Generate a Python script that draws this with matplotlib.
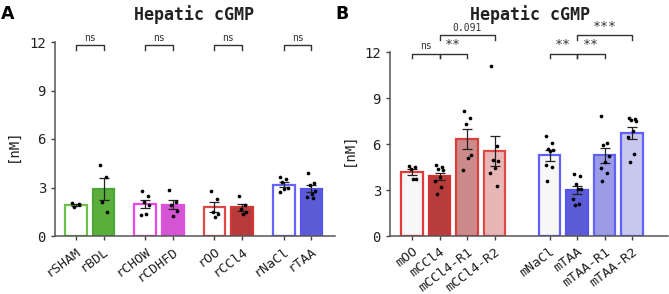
import numpy as np
import matplotlib
matplotlib.use('Agg')
import matplotlib.pyplot as plt

plt.rcParams['font.family'] = 'DejaVu Sans Mono'

# panel A data
labels_a = ['rSHAM', 'rBDL', 'rCHOW', 'rCDHFD', 'rOO', 'rCCl4', 'rNaCl', 'rTAA']
points_a = [
    [2.05, 1.95, 1.8],
    [4.42, 3.66, 2.1, 1.46],
    [2.76, 2.47, 2.08, 1.91, 1.34, 1.32],
    [2.86, 2.1, 1.91, 1.56, 1.23],
    [2.8, 2.28, 1.48, 1.36, 1.19],
    [2.49, 1.89, 1.65, 1.5, 1.34],
    [3.66, 3.54, 3.31, 3.0, 2.9, 2.7],
    [3.91, 3.27, 3.15, 2.8, 2.57, 2.41, 2.33],
]
fill_a = ['white', '#5aae3c', 'white', '#d454d4', 'white', '#b83a3a', 'white', '#5c5cd8']
edge_a = ['#6cc04a', '#4ca535', '#ee44ee', '#e050e0', '#e04848', '#d03838', '#6464ff', '#5555ee']
pairs_a = [(0, 1, 'ns'), (2, 3, 'ns'), (4, 5, 'ns'), (6, 7, 'ns')]

# panel B data
labels_b = ['mOO', 'mCCl4', 'mCCl4-R1', 'mCCl4-R2', 'mNaCl', 'mTAA', 'mTAA-R1', 'mTAA-R2']
points_b = [
    [4.57, 4.48, 4.35, 3.74, 3.7],
    [4.61, 4.52, 4.39, 4.3, 3.83, 3.61, 3.22, 2.74],
    [8.17, 7.68, 7.33, 5.3, 5.09, 4.3],
    [11.1, 5.87, 4.94, 4.9, 4.42, 4.13, 3.26],
    [6.54, 6.09, 5.65, 5.59, 5.55, 4.61, 4.48, 3.59],
    [4.02, 3.91, 3.37, 3.09, 3.04, 2.41, 2.07, 2.0],
    [7.85, 6.05, 5.91, 5.22, 4.85, 4.43, 4.11, 3.59],
    [7.67, 7.63, 7.59, 7.5, 6.87, 6.43, 5.35, 4.81],
]
fill_b = ['#f7f7f7', '#b83c3c', '#cc8a8a', '#e8b6b6', '#f7f7f7', '#5c5cd6', '#9b9be6', '#c8c8ee']
edge_b = ['#e03a3a', '#d03434', '#d84040', '#e04848', '#6060ff', '#5555ee', '#6262f4', '#6060ff']
pairs_b_low = [(0, 1, 'ns'), (1, 2, '**'), (4, 5, '**'), (5, 6, '**')]
pairs_b_high = [(1, 3, '0.091'), (5, 7, '***')]

jit = [-0.12, 0.1, -0.05, 0.14, 0.02, -0.15, 0.07, -0.09]


def draw(ax, pos, labels, pts, fills, edges):
    means = [np.mean(p) for p in pts]
    sems = [np.std(p, ddof=1) / np.sqrt(len(p)) for p in pts]
    ax.bar(pos, means, width=0.78, color=fills, edgecolor=edges, linewidth=1.6, zorder=2)
    ax.errorbar(pos, means, yerr=sems, fmt='none', ecolor='#222222', elinewidth=0.9,
                capsize=3.5, capthick=0.9, zorder=4)
    for x, p in zip(pos, pts):
        xs = [x + jit[k % len(jit)] for k in range(len(p))]
        ax.scatter(xs, p, s=7, color='black', zorder=5, linewidths=0)
    ax.set_xticks(pos)
    ax.set_xticklabels(labels, rotation=37, ha='right', rotation_mode='anchor', fontsize=9.5)
    ax.set_ylim(0, 12)
    ax.set_yticks([0, 3, 6, 9, 12])
    ax.tick_params(axis='both', colors='#444444', labelcolor='#222222', length=3, width=1)
    ax.tick_params(axis='y', labelsize=10)
    for s in ['top', 'right']:
        ax.spines[s].set_visible(False)
    for s in ['left', 'bottom']:
        ax.spines[s].set_color('#555555')
        ax.spines[s].set_linewidth(1.1)
    ax.set_ylabel('[nM]', fontsize=10, color='#222222')
    ax.yaxis.set_label_coords(-0.125, 0.47)


def bracket(ax, pos, pairs, y, h):
    for a, b, txt in pairs:
        x1, x2 = pos[a], pos[b]
        ax.plot([x1, x1, x2, x2], [y - h, y, y, y - h], color='#333333', lw=1, clip_on=False)
        fs = 9.5 if '*' in txt else 7
        ax.text((x1 + x2) / 2, y + 0.15, txt, ha='center', va='bottom', fontsize=fs,
                color='#333333', clip_on=False)


fig = plt.figure(figsize=(6.69, 2.94), dpi=100)
ax_a = fig.add_axes([55 / 669, 58 / 294, 280 / 669, 194 / 294])
ax_b = fig.add_axes([390 / 669, 58 / 294, 278 / 669, 184 / 294])

pos_a = [0, 1, 2.5, 3.5, 5, 6, 7.5, 8.5]
pos_b = [0, 1, 2, 3, 5, 6, 7, 8]

draw(ax_a, pos_a, labels_a, points_a, fill_a, edge_a)
ax_a.set_xlim(-0.75, 9.35)
bracket(ax_a, pos_a, pairs_a, 11.8, 0.3)

draw(ax_b, pos_b, labels_b, points_b, fill_b, edge_b)
ax_b.set_xlim(-0.8, 9.3)
bracket(ax_b, pos_b, pairs_b_low, 11.9, 0.3)
bracket(ax_b, pos_b, pairs_b_high, 13.1, 0.3)

fig.text(194 / 669, 1 - 15 / 294, 'Hepatic cGMP', fontsize=12, fontweight='bold',
         color='#222222', ha='center', va='center')
fig.text(530 / 669, 1 - 15 / 294, 'Hepatic cGMP', fontsize=12, fontweight='bold',
         color='#222222', ha='center', va='center')
fig.text(1 / 669, 1 - 5 / 294, 'A', fontsize=12.5, fontweight='bold', family='DejaVu Sans', va='top')
fig.text(335 / 669, 1 - 5 / 294, 'B', fontsize=12.5, fontweight='bold', family='DejaVu Sans', va='top')

fig.savefig('out.png', dpi=100)
